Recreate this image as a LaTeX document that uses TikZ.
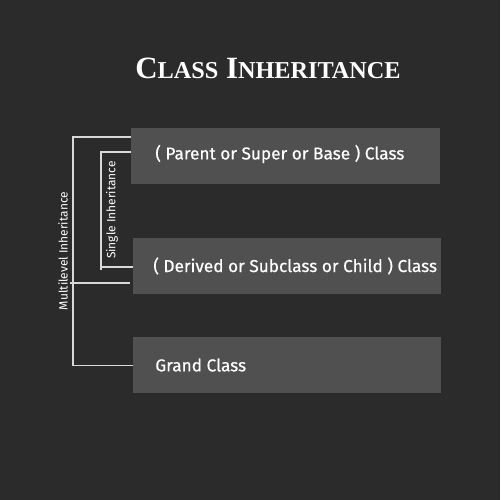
\documentclass[tikz,border=0pt]{standalone}
\usepackage{fontspec}
\setmainfont{Fira Sans}
\newfontfamily\titlefont{Liberation Serif}
\definecolor{bgdark}{HTML}{2B2B2B}
\definecolor{boxgray}{HTML}{505050}
\definecolor{linegray}{HTML}{D8D8D8}
\begin{document}
\begin{tikzpicture}[x=0.02cm, y=-0.02cm,
    classbox/.style={fill=boxgray, draw=none, inner sep=0pt, anchor=north west},
    boxtext/.style={text=white, font=\fontsize{9.8}{12}\selectfont\addfontfeatures{FakeBold=0.6}, anchor=west, inner sep=0pt},
    sidetext/.style={text=white, font=\fontsize{6.8}{8}\selectfont, rotate=90, inner sep=0pt},
    link/.style={linegray, line width=0.6pt}]
    % Background
    \fill[bgdark] (0,0) rectangle (500,500);
    \useasboundingbox (0,0) rectangle (500,500);

    % Title
    \node[text=white, inner sep=0pt] (title) at (268,68)
        {\titlefont\bfseries\fontsize{17.6}{20}\selectfont C{\fontsize{13.8}{16}\selectfont LASS} I{\fontsize{13.8}{16}\selectfont NHERITANCE}};

    % Class boxes
    \node[classbox, minimum width=309*0.02cm, minimum height=56*0.02cm] (parent) at (131,128) {};
    \node[classbox, minimum width=308*0.02cm, minimum height=56*0.02cm] (child) at (133,238) {};
    \node[classbox, minimum width=308*0.02cm, minimum height=56*0.02cm] (grand) at (133,337) {};

    \node[boxtext] (parenttxt) at (155,154) {( Parent or Super or Base ) Class};
    \node[boxtext] (childtxt) at (153,266) {( Derived or Subclass or Child ) Class};
    \node[boxtext] (grandtxt) at (155,365) {Grand Class};

    % Brackets
    \coordinate (mltop) at (73,137);
    \coordinate (mlmid) at (70,283);
    \coordinate (sgtop) at (101,152);
    \coordinate (sgbot) at (101,267);
    \draw[link] (parent.west |- mltop) -- (mltop) |- (grand.west);
    \draw[link] (mlmid) -- ([xshift=-3*0.02cm]child.west |- mlmid);
    \draw[link] (parent.west |- sgtop) -- (sgtop) -- ([yshift=-3*0.02cm]sgbot) (sgbot) -- (child.west |- sgbot);

    % Side labels
    \node[sidetext] (multilabel) at (63,251) {Multilevel Inheritance};
    \node[sidetext] (singlelabel) at (112,210) {Single Inheritance};
\end{tikzpicture}
\end{document}
